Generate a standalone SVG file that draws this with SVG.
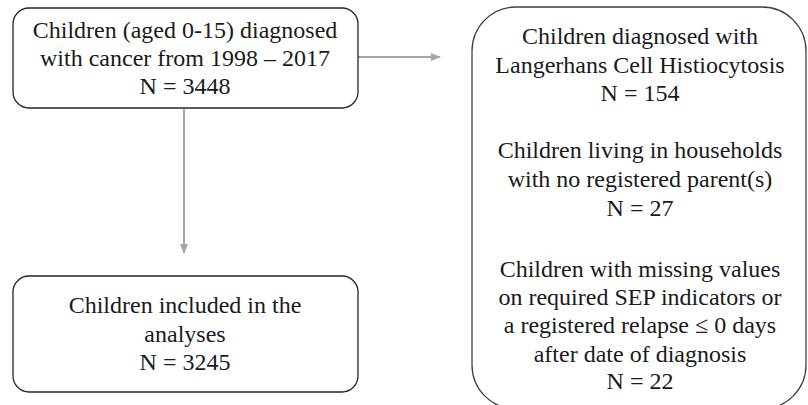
<svg xmlns="http://www.w3.org/2000/svg" width="808" height="405" viewBox="0 0 808 405">
<defs>
<marker id="ah" markerWidth="10" markerHeight="8" refX="9" refY="4" orient="auto" markerUnits="userSpaceOnUse">
<path d="M0,0 L10,4 L0,8 Z" fill="#a6a6a6"/>
</marker>
</defs>
<rect width="808" height="405" fill="#fff"/>
<g id="connectors" stroke="#a6a6a6" stroke-width="2" fill="none">
<line x1="358" y1="57" x2="440" y2="57" marker-end="url(#ah)"/>
<line x1="184" y1="109" x2="184" y2="253" marker-end="url(#ah)"/>
</g>
<g id="n1">
<rect x="13" y="8" width="345" height="100" rx="16" fill="#fff" stroke="#262626" stroke-width="1.3"/>
<text font-family="Liberation Serif" font-size="24" fill="#1a1a1a" text-anchor="middle" x="185" y="38">Children (aged 0-15) diagnosed</text>
<text font-family="Liberation Serif" font-size="24" fill="#1a1a1a" text-anchor="middle" x="185" y="66">with cancer from 1998 &#8211; 2017</text>
<text font-family="Liberation Serif" font-size="24" fill="#1a1a1a" text-anchor="middle" x="185" y="94">N = 3448</text>
</g>
<g id="n2">
<rect x="13" y="276" width="345" height="116" rx="16" fill="#fff" stroke="#262626" stroke-width="1.3"/>
<text font-family="Liberation Serif" font-size="24" fill="#1a1a1a" text-anchor="middle" x="185" y="313">Children included in the</text>
<text font-family="Liberation Serif" font-size="24" fill="#1a1a1a" text-anchor="middle" x="185" y="342">analyses</text>
<text font-family="Liberation Serif" font-size="24" fill="#1a1a1a" text-anchor="middle" x="185" y="370">N = 3245</text>
</g>
<g id="n3">
<rect x="472" y="7" width="334" height="402" rx="44" fill="#fff" stroke="#404040" stroke-width="1.3"/>
<text font-family="Liberation Serif" font-size="24" fill="#1a1a1a" text-anchor="middle" x="640" y="44">Children diagnosed with</text>
<text font-family="Liberation Serif" font-size="24" fill="#1a1a1a" text-anchor="middle" x="640" y="73">Langerhans Cell Histiocytosis</text>
<text font-family="Liberation Serif" font-size="24" fill="#1a1a1a" text-anchor="middle" x="640" y="101">N = 154</text>
<text font-family="Liberation Serif" font-size="24" fill="#1a1a1a" text-anchor="middle" x="640" y="158">Children living in households</text>
<text font-family="Liberation Serif" font-size="24" fill="#1a1a1a" text-anchor="middle" x="640" y="187">with no registered parent(s)</text>
<text font-family="Liberation Serif" font-size="24" fill="#1a1a1a" text-anchor="middle" x="640" y="216">N = 27</text>
<text font-family="Liberation Serif" font-size="24" fill="#1a1a1a" text-anchor="middle" x="640" y="277">Children with missing values</text>
<text font-family="Liberation Serif" font-size="24" fill="#1a1a1a" text-anchor="middle" x="640" y="305">on required SEP indicators or</text>
<text font-family="Liberation Serif" font-size="24" fill="#1a1a1a" text-anchor="middle" x="640" y="333">a registered relapse &#8804;  0 days</text>
<text font-family="Liberation Serif" font-size="24" fill="#1a1a1a" text-anchor="middle" x="640" y="362">after date of diagnosis</text>
<text font-family="Liberation Serif" font-size="24" fill="#1a1a1a" text-anchor="middle" x="640" y="389">N = 22</text>
</g>
</svg>
